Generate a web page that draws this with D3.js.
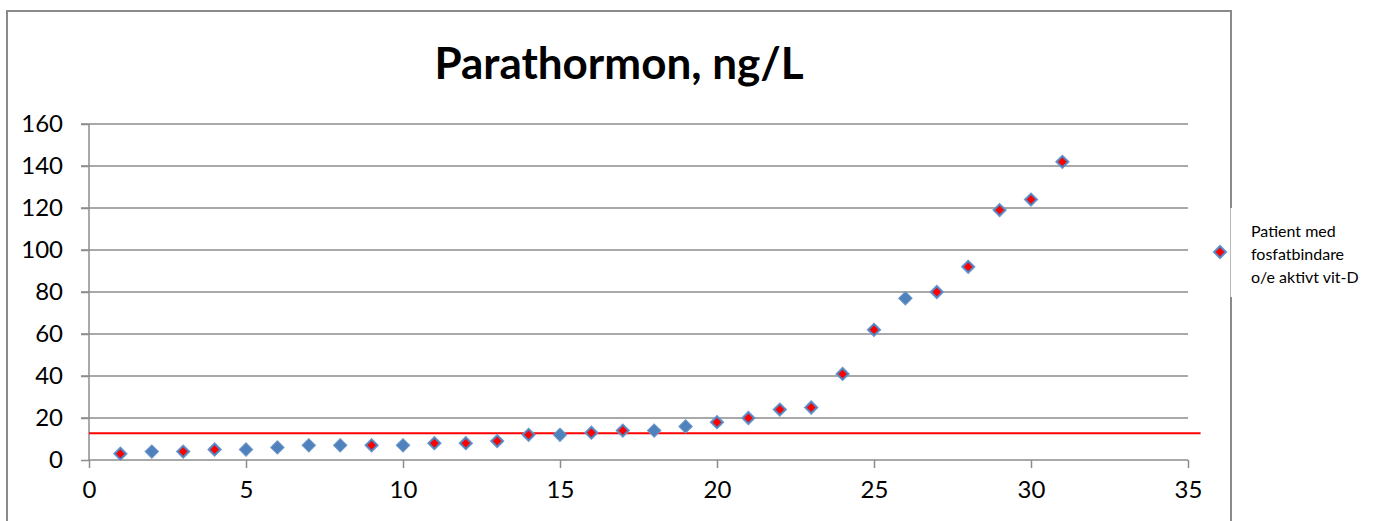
<!DOCTYPE html>
<html>
<head>
<meta charset="utf-8">
<script src="https://d3js.org/d3.v7.min.js"></script>
<style>
  body { margin: 0; background: #fff; }
  text { font-family: Lato, "Open Sans", sans-serif; fill: #000; }
</style>
</head>
<body>
<svg></svg>
<script>
var width = 1376;
var height = 521;

// patient number along x, PTH value on y
var patientNo = [1,2,3,4,5,6,7,8,9,10,11,12,13,14,15,16,17,18,19,20,21,22,23,24,25,26,27,28,29,30,31];
var pth = [3,4,4,5,5,6,7,7,7,7,8,8,9,12,12,13,14,14,16,18,20,24,25,41,62,77,80,92,119,124,142];
// 1 = patient med fosfatbindare o/e aktivt vit-D (red centre)
var treated = [1,0,1,1,0,0,0,0,1,0,1,1,1,1,0,1,1,0,0,1,1,1,1,1,1,0,1,1,1,1,1];

var xTicks = [0,5,10,15,20,25,30,35];
var yTicks = [0,20,40,60,80,100,120,140,160];
var refLevel = 12.7;
var refSpan = [0, 35.4];

var title = "Parathormon, ng/L";
var legendLines = ["Patient med", "fosfatbindare", "o/e aktivt vit-D"];

var margin = {left: 89, top: 124, right: 1188, bottom: 460};

var svg = d3.select("svg")
    .attr("width", width)
    .attr("height", height);

var x = d3.scaleLinear().domain([0, 35]).range([margin.left, margin.right]);
var y = d3.scaleLinear().domain([0, 160]).range([margin.bottom, margin.top]);

// chart border (broken where the legend sits)
svg.append("path")
    .attr("d", "M1231,208 V11 H7 V530 H1231 V297")
    .attr("fill", "none")
    .attr("stroke", "#8a8a8a")
    .attr("stroke-width", 2);
svg.append("line")
    .attr("x1", 1230.5).attr("x2", 1230.5)
    .attr("y1", 208).attr("y2", 297)
    .attr("stroke", "#b8b8b8")
    .attr("stroke-width", 1);

svg.append("text")
    .attr("x", 619)
    .attr("y", 79)
    .attr("text-anchor", "middle")
    .style("font-size", "44px")
    .style("font-weight", "bold")
    .text(title);

// gridlines
var grid = svg.append("g");
grid.selectAll("line")
    .data(yTicks.filter(function(d) { return d > 0; }))
    .enter().append("line")
      .attr("x1", margin.left - 8)
      .attr("x2", margin.right)
      .attr("y1", function(d) { return y(d); })
      .attr("y2", function(d) { return y(d); })
      .attr("stroke", "#8c8c8c")
      .attr("stroke-width", 1.5);

// y axis
var yAxis = svg.append("g")
    .attr("transform", "translate(" + margin.left + ",0)")
    .call(d3.axisLeft(y).tickValues(yTicks).tickSize(8).tickPadding(18).tickFormat(d3.format("d")));

// x axis
var xAxis = svg.append("g")
    .attr("transform", "translate(0," + margin.bottom + ")")
    .call(d3.axisBottom(x).tickValues(xTicks).tickSize(8).tickPadding(13).tickFormat(d3.format("d")));

[yAxis, xAxis].forEach(function(ax) {
  ax.select(".domain").attr("stroke", "#8c8c8c").attr("stroke-width", 1.5);
  ax.selectAll(".tick line").attr("stroke", "#8c8c8c").attr("stroke-width", 1.5);
  ax.selectAll(".tick text")
    .style("font-family", "Lato, sans-serif")
    .style("font-size", "24px")
    .attr("fill", "#000");
});
yAxis.select(".domain").attr("d", "M0," + margin.bottom + "V" + margin.top);
xAxis.select(".domain").attr("d", "M" + margin.left + ",0H" + margin.right);

// reference line
svg.append("line")
    .attr("x1", x(refSpan[0]))
    .attr("x2", x(refSpan[1]))
    .attr("y1", y(refLevel))
    .attr("y2", y(refLevel))
    .attr("stroke", "#ff0000")
    .attr("stroke-width", 2);

var bigDiamond = d3.symbol().type(d3.symbolSquare).size(90);
var smallDiamond = d3.symbol().type(d3.symbolSquare).size(36);

var points = patientNo.map(function(p, i) {
  return {x: p, y: pth[i], t: treated[i]};
});

var node = svg.append("g").selectAll("g")
    .data(points)
    .enter().append("g")
      .attr("transform", function(d) { return "translate(" + x(d.x) + "," + y(d.y) + ") rotate(45)"; });

node.append("path")
    .attr("d", bigDiamond)
    .attr("fill", "#4f81bd")
    .attr("stroke", "#6d97cb")
    .attr("stroke-width", 1);

node.filter(function(d) { return d.t; })
  .append("path")
    .attr("d", smallDiamond)
    .attr("fill", "#ff0000");

// legend
var legend = svg.append("g");
var lm = legend.append("g").attr("transform", "translate(1220,252) rotate(45)");
lm.append("path").attr("d", bigDiamond).attr("fill", "#4f81bd").attr("stroke", "#6d97cb");
lm.append("path").attr("d", smallDiamond).attr("fill", "#ff0000");

legend.selectAll("text")
    .data(legendLines)
    .enter().append("text")
      .attr("x", 1251)
      .attr("y", function(d, i) { return 237 + i * 23; })
      .style("font-size", "16px")
      .text(function(d) { return d; });
</script>
</body>
</html>
